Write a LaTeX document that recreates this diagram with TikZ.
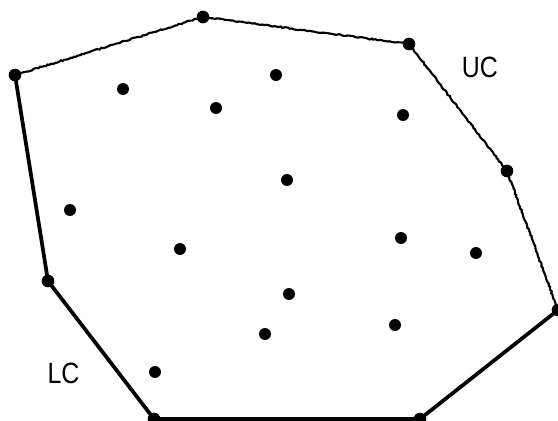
\documentclass[tikz,border=0pt]{standalone}
\usepackage{fontspec}
\setmainfont{Liberation Sans}
\usetikzlibrary{decorations.pathmorphing}
\begin{document}
\begin{tikzpicture}[x=0.75pt,y=-0.75pt,
  pt/.style={circle,fill=black,inner sep=0pt,minimum size=9pt},
  vx/.style={circle,fill=black,inner sep=0pt,minimum size=9.5pt},
  upper/.style={line width=1.6pt,decorate,decoration={random steps,segment length=1.5pt,amplitude=0.5pt}},
  lower/.style={line width=2.8pt},
  lab/.style={font=\fontsize{22}{22}\selectfont,inner sep=0pt,xscale=0.85}]
\useasboundingbox (0,0) rectangle (558,421);
% hull vertices
\node[vx] (A) at (15,75) {};
\node[vx] (B) at (203,17) {};
\node[vx] (C) at (409,44) {};
\node[vx] (D) at (507,171) {};
\node[vx] (E) at (558,310) {};
\node[vx] (F) at (420,419) {};
\node[vx] (G) at (154,419) {};
\node[vx] (H) at (48,281) {};
% interior points
\node[pt] (p1) at (123,89) {};
\node[pt] (p2) at (276,75) {};
\node[pt] (p3) at (216,108) {};
\node[pt] (p4) at (403,115) {};
\node[pt] (p5) at (287,180) {};
\node[pt] (p6) at (70,210) {};
\node[pt] (p7) at (180,249) {};
\node[pt] (p8) at (401,238) {};
\node[pt] (p9) at (476,253) {};
\node[pt] (p10) at (289,294) {};
\node[pt] (p11) at (395,325) {};
\node[pt] (p12) at (155,372) {};
\node[pt] (p13) at (265,334) {};
% chains
\draw[upper] (A.center) -- (B.center) -- (C.center) -- (D.center) -- (E.center);
\draw[lower,line join=round] (A.center) -- (H.center) -- (G.center) -- (F.center) -- (E.center);
% labels
\node[lab] (uc) at (480,67.5) {UC};
\node[lab] (lc) at (63.5,373.5) {LC};
\end{tikzpicture}
\end{document}
